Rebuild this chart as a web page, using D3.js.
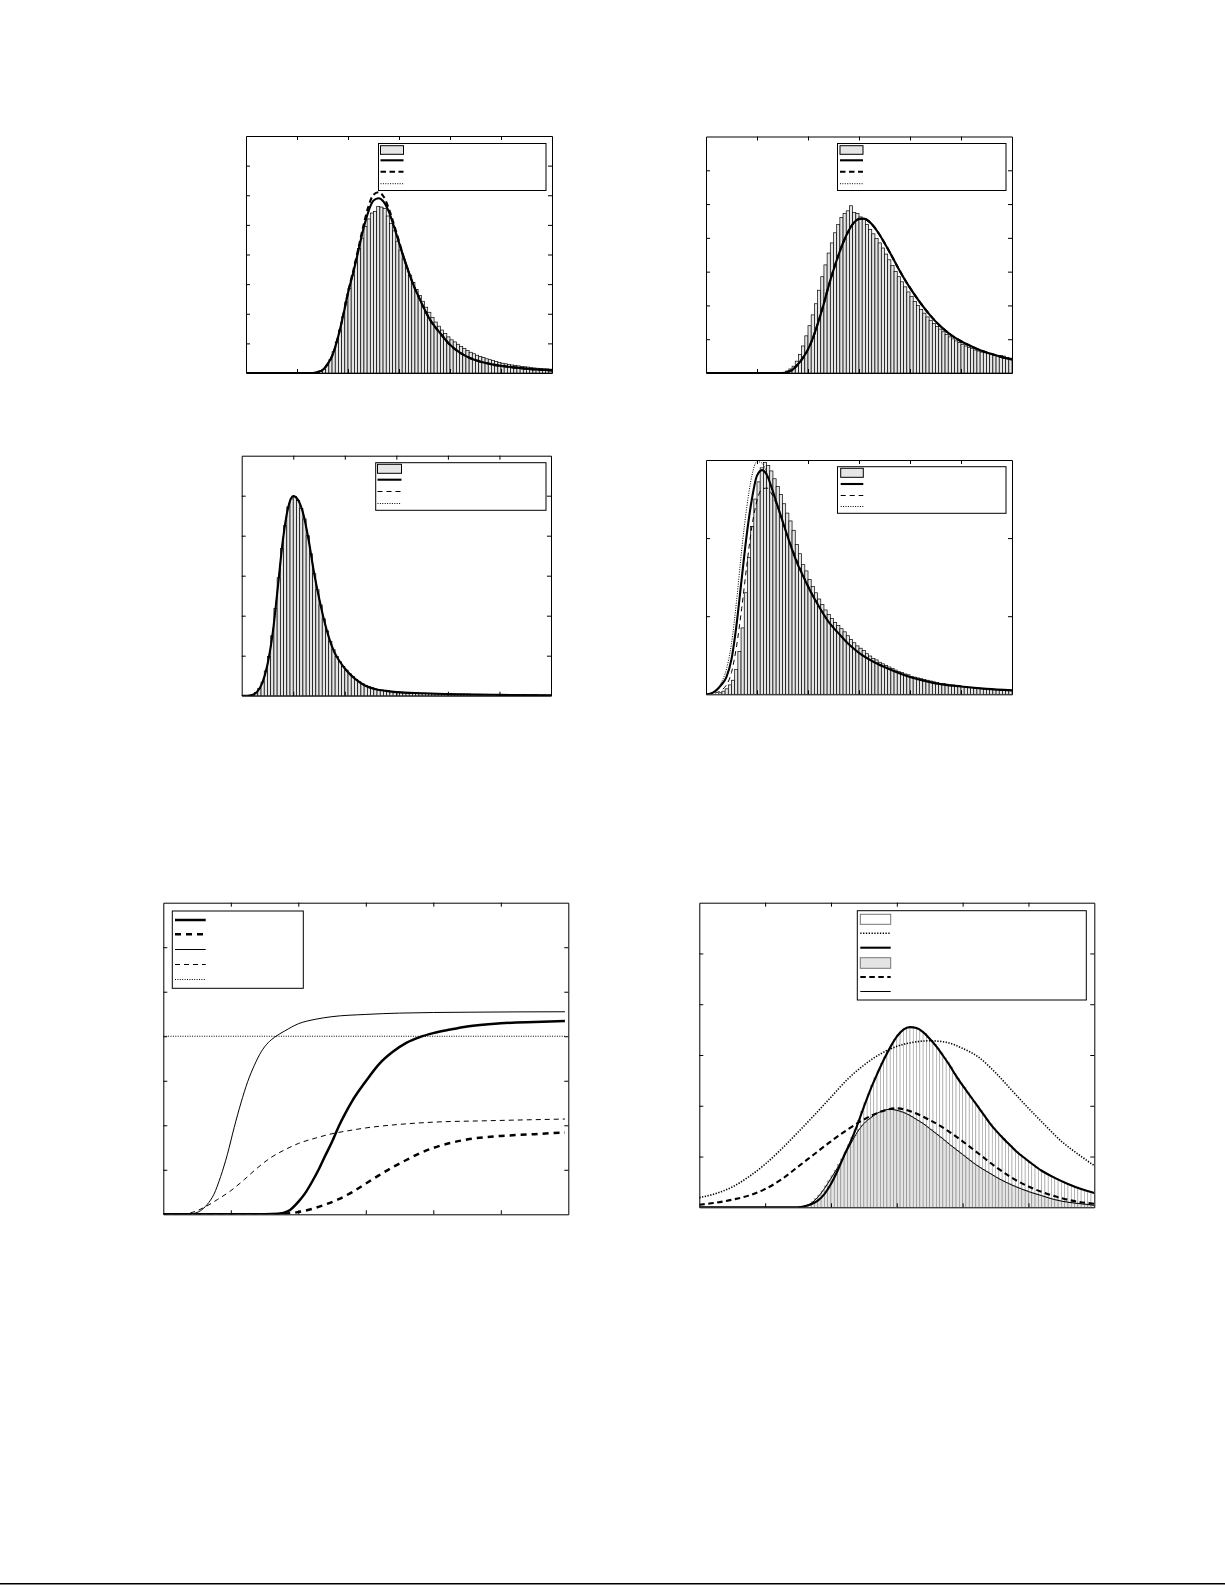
<!DOCTYPE html>
<html><head><meta charset="utf-8">
<script src="https://cdn.jsdelivr.net/npm/d3@7"></script>
<style>html,body{margin:0;padding:0;background:#fff;}svg{display:block;}</style>
</head><body>
<svg id="fig" width="1225" height="1585"></svg>
<script>
// ---------------- DATA ----------------
const xTickValues = [1, 2, 3, 4, 5];
const p1YTicks = [1, 2, 3, 4, 5, 6, 7];
const p2YTicks = [1, 2, 3, 4, 5, 6];
const p3YTicks = [1, 2, 3, 4, 5];
const p4YTicks = [1, 2];
const p5YTicks = [1, 2, 3, 4, 5, 6];
const p6YTicks = [1, 2, 3, 4, 5];

// Panel 1
const p1BinStart = 1.375, p1BinWidth = 0.0625;
const p1Hist = [0.02,0.05,0.12,0.25,0.45,0.72,1.05,1.45,1.90,2.40,2.85,3.30,3.75,4.20,4.55,4.95,5.20,5.40,5.45,5.62,5.60,5.55,5.30,5.05,4.80,4.45,4.15,3.85,3.55,3.30,3.05,2.82,2.62,2.42,2.22,2.05,1.88,1.72,1.58,1.45,1.33,1.22,1.12,1.05,0.97,0.90,0.83,0.76,0.70,0.65,0.60,0.56,0.52,0.48,0.45,0.42,0.39,0.36,0.33,0.31,0.29,0.27,0.25,0.24,0.22,0.21,0.20,0.18,0.17,0.16,0.15,0.14,0.14,0.13];
const p1Solid = [[0,0],[1.30,0],[1.40,0.03],[1.50,0.10],[1.60,0.30],[1.70,0.62],[1.80,1.18],[1.90,1.90],[2.00,2.70],[2.10,3.37],[2.20,4.10],[2.30,4.85],[2.40,5.45],[2.50,5.82],[2.60,5.90],[2.70,5.78],[2.80,5.45],[2.90,4.95],[3.00,4.40],[3.10,3.85],[3.20,3.35],[3.30,2.90],[3.40,2.52],[3.50,2.15],[3.60,1.82],[3.70,1.57],[3.80,1.36],[4.00,0.95],[4.20,0.68],[4.40,0.50],[4.60,0.38],[4.80,0.30],[5.00,0.24],[5.30,0.18],[5.60,0.13],[6.00,0.09]];
const p1Dashed = [[0,0],[1.30,0],[1.40,0.03],[1.50,0.10],[1.60,0.30],[1.70,0.62],[1.80,1.18],[1.90,1.90],[2.00,2.72],[2.10,3.42],[2.20,4.18],[2.30,4.95],[2.40,5.62],[2.50,6.02],[2.60,6.10],[2.70,5.95],[2.80,5.55],[2.90,5.02],[3.00,4.45],[3.10,3.87],[3.20,3.36],[3.30,2.90],[3.40,2.52],[3.50,2.15],[3.60,1.82],[3.70,1.57],[3.80,1.36],[4.00,0.95],[4.20,0.68],[4.40,0.50],[4.60,0.38],[4.80,0.30],[5.00,0.24],[5.30,0.18],[5.60,0.13],[6.00,0.09]];

// Panel 2
const p2BinStart = 1.5, p2BinWidth = 0.0625;
const p2Hist = [0.02,0.06,0.12,0.20,0.35,0.55,0.80,1.10,1.40,1.72,2.05,2.45,2.85,3.20,3.55,3.85,4.15,4.40,4.60,4.72,4.80,4.95,4.75,4.72,4.62,4.55,4.40,4.25,4.12,3.98,3.85,3.70,3.52,3.35,3.18,3.00,2.85,2.70,2.55,2.40,2.26,2.12,2.00,1.88,1.77,1.66,1.56,1.47,1.38,1.30,1.22,1.14,1.07,1.01,0.95,0.90,0.85,0.80,0.76,0.72,0.68,0.65,0.62,0.60,0.58,0.56,0.54,0.52,0.52,0.50,0.46,0.44];
const p2Solid = [[0,0],[1.50,0],[1.60,0.03],[1.70,0.10],[1.80,0.25],[1.90,0.45],[2.00,0.70],[2.10,1.05],[2.20,1.50],[2.30,2.00],[2.40,2.55],[2.50,3.05],[2.60,3.50],[2.70,3.90],[2.80,4.22],[2.90,4.45],[3.00,4.56],[3.10,4.57],[3.20,4.48],[3.30,4.32],[3.40,4.10],[3.50,3.85],[3.60,3.58],[3.70,3.30],[3.80,3.02],[3.90,2.76],[4.00,2.52],[4.20,2.08],[4.40,1.70],[4.60,1.38],[4.80,1.13],[5.00,0.94],[5.20,0.79],[5.40,0.66],[5.60,0.56],[5.80,0.47],[6.00,0.40]];

// Panel 3
const p3BinStart = 0.125, p3BinWidth = 0.0625;
const p3Hist = [0.01,0.02,0.08,0.18,0.34,0.62,0.98,1.50,2.18,2.95,3.68,4.25,4.72,4.92,4.98,4.88,4.68,4.42,4.00,3.55,3.05,2.65,2.27,1.92,1.62,1.36,1.15,0.98,0.85,0.73,0.64,0.55,0.48,0.41,0.35,0.30,0.26,0.23,0.20,0.17,0.15,0.14,0.13,0.12,0.11,0.10,0.09,0.09,0.08,0.08,0.07,0.07,0.07,0.06,0.06,0.06,0.06,0.05,0.05,0.05,0.05,0.05,0.04,0.04,0.04,0.04,0.04,0.04,0.04,0.03,0.03,0.03,0.03,0.03,0.03,0.03,0.03,0.03,0.02,0.02,0.02,0.02,0.02,0.02,0.02,0.02,0.02,0.02,0.02,0.02,0.01,0.01,0.01,0.01];
const p3Solid = [[0,0],[0.10,0],[0.20,0.02],[0.30,0.10],[0.40,0.32],[0.50,0.78],[0.60,1.55],[0.70,2.70],[0.80,3.90],[0.90,4.70],[1.00,4.99],[1.10,4.88],[1.20,4.52],[1.30,3.88],[1.40,3.10],[1.50,2.45],[1.60,1.88],[1.70,1.42],[1.80,1.08],[1.90,0.86],[2.00,0.68],[2.20,0.42],[2.40,0.25],[2.60,0.16],[2.80,0.12],[3.00,0.09],[3.50,0.06],[4.00,0.04],[5.00,0.02],[6.00,0.01]];

// Panel 4
const p4BinStart = 0.25, p4BinWidth = 0.0625;
const p4Hist = [0.02,0.04,0.07,0.12,0.18,0.32,0.55,0.85,1.30,1.75,2.15,2.50,2.72,2.90,2.97,2.93,2.86,2.76,2.66,2.56,2.44,2.32,2.22,2.10,1.92,1.80,1.66,1.58,1.47,1.38,1.30,1.22,1.15,1.08,1.02,0.97,0.92,0.88,0.84,0.80,0.75,0.70,0.66,0.62,0.59,0.56,0.52,0.49,0.46,0.44,0.41,0.39,0.37,0.35,0.33,0.31,0.29,0.28,0.26,0.25,0.23,0.22,0.21,0.20,0.19,0.18,0.17,0.16,0.15,0.14,0.14,0.13,0.12,0.12,0.11,0.11,0.10,0.10,0.09,0.09,0.08,0.08,0.07,0.07,0.07,0.06,0.06,0.06,0.05,0.05,0.05,0.05];
const p4Solid = [[0,0],[0.10,0.01],[0.20,0.05],[0.30,0.12],[0.40,0.22],[0.50,0.45],[0.60,0.90],[0.70,1.48],[0.80,2.05],[0.90,2.50],[1.00,2.80],[1.10,2.87],[1.20,2.80],[1.30,2.62],[1.40,2.42],[1.50,2.22],[1.60,2.02],[1.70,1.83],[1.80,1.66],[1.90,1.52],[2.00,1.38],[2.20,1.14],[2.40,0.93],[2.60,0.78],[2.80,0.64],[3.00,0.53],[3.30,0.41],[3.60,0.32],[4.00,0.22],[4.50,0.14],[5.00,0.10],[5.50,0.07],[6.00,0.05]];
const p4Dashed = [[0,0],[0.20,0.02],[0.40,0.12],[0.50,0.28],[0.60,0.62],[0.70,1.10],[0.80,1.65],[0.90,2.15],[1.00,2.48],[1.10,2.63],[1.20,2.64],[1.30,2.55],[1.40,2.40],[1.50,2.22],[1.60,2.04],[1.70,1.86],[1.80,1.69],[1.90,1.54],[2.00,1.40],[2.20,1.15],[2.40,0.94],[2.60,0.78],[2.80,0.64],[3.00,0.53],[3.30,0.41],[3.60,0.32],[4.00,0.22],[4.50,0.14],[5.00,0.10],[5.50,0.07],[6.00,0.05]];
const p4Dotted = [[0,0],[0.10,0.02],[0.20,0.06],[0.30,0.15],[0.40,0.32],[0.50,0.65],[0.60,1.20],[0.70,1.85],[0.80,2.40],[0.90,2.80],[1.00,2.98],[1.10,2.96],[1.20,2.82],[1.30,2.62],[1.40,2.40],[1.50,2.20],[1.60,2.01],[1.70,1.83],[1.80,1.66],[1.90,1.52],[2.00,1.38],[2.20,1.14],[2.40,0.93],[2.60,0.78],[2.80,0.64],[3.00,0.53],[3.30,0.41],[3.60,0.32],[4.00,0.22],[4.50,0.14],[5.00,0.10],[5.50,0.07],[6.00,0.05]];

// Panel 5
const p5ThickSolid = [[0,0],[1.50,0],[1.70,0.01],[1.85,0.07],[2.00,0.28],[2.10,0.47],[2.20,0.72],[2.30,1.00],[2.40,1.32],[2.50,1.63],[2.60,1.98],[2.70,2.28],[2.80,2.55],[2.90,2.78],[3.00,2.99],[3.20,3.38],[3.40,3.65],[3.60,3.85],[3.80,3.98],[4.00,4.07],[4.25,4.15],[4.50,4.22],[5.00,4.29],[5.50,4.32],[5.95,4.34]];
const p5ThickDashed = [[0,0],[1.60,0],[1.80,0.01],[2.00,0.05],[2.20,0.12],[2.40,0.22],[2.60,0.34],[2.80,0.50],[3.00,0.69],[3.20,0.88],[3.40,1.06],[3.60,1.22],[3.80,1.37],[4.00,1.49],[4.25,1.60],[4.50,1.68],[4.75,1.73],[5.00,1.76],[5.50,1.80],[5.95,1.84]];
const p5ThinSolid = [[0,0],[0.30,0],[0.45,0.02],[0.55,0.08],[0.65,0.22],[0.75,0.45],[0.85,0.85],[0.95,1.35],[1.05,1.95],[1.15,2.50],[1.25,2.98],[1.35,3.35],[1.45,3.65],[1.55,3.85],[1.65,3.98],[1.80,4.12],[2.00,4.28],[2.25,4.38],[2.50,4.44],[3.00,4.49],[3.50,4.52],[4.50,4.54],[5.95,4.55]];
const p5ThinDashed = [[0,0],[0.25,0],[0.40,0.03],[0.60,0.15],[0.80,0.33],[1.00,0.53],[1.20,0.78],[1.40,1.05],[1.60,1.28],[1.80,1.45],[2.00,1.59],[2.25,1.71],[2.50,1.81],[2.75,1.88],[3.00,1.94],[3.50,2.02],[4.00,2.07],[4.75,2.10],[5.95,2.14]];
const p5Level = [[0,4],[5.95,4]];

// Panel 6
const p6BinStart = 1.5, p6BinWidth = 0.05;
const p6HistA = [0.005,0.015,0.03,0.05,0.08,0.11,0.16,0.22,0.31,0.41,0.52,0.65,0.79,0.95,1.09,1.23,1.38,1.54,1.71,1.89,2.06,2.23,2.40,2.55,2.69,2.83,2.96,3.09,3.20,3.31,3.40,3.47,3.52,3.54,3.55,3.54,3.51,3.47,3.42,3.35,3.28,3.21,3.13,3.04,2.94,2.85,2.75,2.64,2.54,2.45,2.36,2.26,2.17,2.08,2.00,1.91,1.82,1.72,1.64,1.56,1.48,1.41,1.35,1.28,1.22,1.15,1.09,1.04,0.98,0.93,0.89,0.84,0.79,0.74,0.70,0.67,0.63,0.60,0.56,0.53,0.50,0.47,0.45,0.42,0.39,0.37,0.35,0.33,0.31,0.29];
const p6HistB = [0.005,0.015,0.04,0.06,0.11,0.17,0.24,0.32,0.42,0.52,0.62,0.73,0.84,0.95,1.07,1.19,1.31,1.42,1.53,1.61,1.68,1.73,1.78,1.83,1.87,1.90,1.92,1.93,1.93,1.92,1.90,1.88,1.86,1.82,1.79,1.75,1.71,1.67,1.63,1.58,1.53,1.48,1.43,1.38,1.32,1.27,1.22,1.17,1.12,1.07,1.02,0.97,0.92,0.87,0.82,0.78,0.74,0.70,0.66,0.62,0.58,0.55,0.52,0.49,0.46,0.43,0.40,0.38,0.35,0.33,0.30,0.28,0.26,0.24,0.22,0.20,0.18,0.16,0.15,0.13,0.12,0.11,0.10,0.09,0.08,0.07,0.06,0.05,0.05,0.04];
const p6Dotted = [[0,0.19],[0.25,0.27],[0.50,0.40],[0.75,0.60],[1.00,0.85],[1.25,1.15],[1.50,1.48],[1.75,1.82],[2.00,2.17],[2.25,2.52],[2.50,2.80],[2.75,3.02],[3.00,3.17],[3.25,3.25],[3.50,3.28],[3.75,3.25],[4.00,3.13],[4.25,2.95],[4.50,2.65],[4.75,2.30],[5.00,1.95],[5.25,1.62],[5.50,1.30],[5.75,1.05],[6.00,0.82]];
const p6ThickSolid = [[0,0],[1.50,0],[1.60,0.02],[1.70,0.06],[1.80,0.13],[1.90,0.26],[2.00,0.46],[2.10,0.72],[2.20,1.02],[2.30,1.30],[2.40,1.62],[2.50,1.98],[2.60,2.32],[2.70,2.62],[2.80,2.90],[2.90,3.15],[3.00,3.36],[3.10,3.50],[3.20,3.55],[3.30,3.53],[3.40,3.45],[3.50,3.32],[3.60,3.17],[3.70,2.99],[3.80,2.80],[3.90,2.59],[4.00,2.40],[4.10,2.22],[4.20,2.04],[4.30,1.86],[4.40,1.68],[4.50,1.52],[4.60,1.38],[4.70,1.25],[4.80,1.12],[4.90,1.01],[5.00,0.91],[5.20,0.72],[5.40,0.58],[5.60,0.46],[5.80,0.36],[6.00,0.28]];
const p6ThickDashed = [[0,0.05],[0.25,0.09],[0.50,0.15],[0.75,0.23],[1.00,0.36],[1.25,0.55],[1.50,0.80],[1.75,1.05],[2.00,1.30],[2.25,1.53],[2.50,1.73],[2.75,1.88],[3.00,1.95],[3.25,1.87],[3.50,1.72],[3.75,1.53],[4.00,1.30],[4.25,1.05],[4.50,0.80],[4.75,0.58],[5.00,0.41],[5.25,0.28],[5.50,0.18],[5.75,0.11],[6.00,0.07]];
const p6ThinSolid = [[0,0],[1.50,0],[1.60,0.02],[1.70,0.08],[1.80,0.20],[1.90,0.37],[2.00,0.57],[2.10,0.78],[2.20,1.01],[2.30,1.25],[2.40,1.48],[2.50,1.65],[2.60,1.76],[2.70,1.85],[2.80,1.91],[2.90,1.93],[3.00,1.91],[3.10,1.87],[3.20,1.81],[3.30,1.73],[3.40,1.65],[3.50,1.55],[3.60,1.45],[3.70,1.35],[3.80,1.24],[3.90,1.14],[4.00,1.04],[4.20,0.84],[4.40,0.68],[4.60,0.53],[4.80,0.41],[5.00,0.31],[5.20,0.23],[5.40,0.15],[5.60,0.10],[5.80,0.07],[6.00,0.04]];

// ---------------- STYLES ----------------
const ST = {
  thick:   {w: 2.1, dash: null},
  thickD:  {w: 2.1, dash: "5.5,3.5"},
  thin:    {w: 1,   dash: null},
  thinD:   {w: 1,   dash: "5,4"},
  dot:     {w: 1,   dash: "1,1.4"},
  dotB:    {w: 1.6, dash: "1.3,1.5"},
  thick5:  {w: 2.5, dash: null},
  thickD5: {w: 2.5, dash: "6,5"}
};
const HIST = {
  dark:  {fill: "#e6e6e6", stroke: "#000", sw: 0.7},
  white: {fill: "#ffffff", stroke: "#9a9a9a", sw: 0.6},
  gray:  {fill: "#e4e4e4", stroke: "#8a8a8a", sw: 0.6}
};

// ---------------- LAYOUT ----------------
const panels = [
  {box:[246,136,552,373], ymax:8, yt:p1YTicks,
   hists:[{start:p1BinStart,w:p1BinWidth,vals:p1Hist,st:"dark"}],
   lines:[{d:p1Solid,st:"dot"},{d:p1Dashed,st:"thickD"},{d:p1Solid,st:"thick"}],
   legend:{box:[378.5,143.5,546,190.5], sx:[380.5,403.5], items:[{y:150,t:"patch",st:"dark",h:8.6},{y:160.3,t:"line",st:"thick"},{y:171.7,t:"line",st:"thickD"},{y:183.7,t:"line",st:"dot"}]}},
  {box:[706,136.5,1012,373], ymax:7, yt:p2YTicks,
   hists:[{start:p2BinStart,w:p2BinWidth,vals:p2Hist,st:"dark"}],
   lines:[{d:p2Solid,st:"dot"},{d:p2Solid,st:"thickD"},{d:p2Solid,st:"thick"}],
   legend:{box:[837.5,143.5,1006,190.5], sx:[840,863], items:[{y:150,t:"patch",st:"dark",h:8.6},{y:160.3,t:"line",st:"thick"},{y:171.7,t:"line",st:"thickD"},{y:183.7,t:"line",st:"dot"}]}},
  {box:[241.7,455.7,551,695.7], ymax:6, yt:p3YTicks,
   hists:[{start:p3BinStart,w:p3BinWidth,vals:p3Hist,st:"dark"}],
   lines:[{d:p3Solid,st:"dot"},{d:p3Solid,st:"thinD"},{d:p3Solid,st:"thick"}],
   legend:{box:[375.7,462.7,546,510.3], sx:[377.5,401.5], items:[{y:468.8,t:"patch",st:"dark",h:9},{y:479.7,t:"line",st:"thick"},{y:491.5,t:"line",st:"thinD"},{y:503.5,t:"line",st:"dot"}]}},
  {box:[706,460,1012,694.3], ymax:3, yt:p4YTicks,
   hists:[{start:p4BinStart,w:p4BinWidth,vals:p4Hist,st:"dark"}],
   lines:[{d:p4Dotted,st:"dot"},{d:p4Dashed,st:"thinD"},{d:p4Solid,st:"thick"}],
   legend:{box:[837.5,466.7,1006,513.3], sx:[840.7,863.3], items:[{y:472.8,t:"patch",st:"dark",h:9},{y:484,t:"line",st:"thick"},{y:495.5,t:"line",st:"thinD"},{y:506.5,t:"line",st:"dot"}]}},
  {box:[163.3,902.7,568.3,1214.3], ymax:7, yt:p5YTicks,
   hists:[],
   lines:[{d:p5Level,st:"dot"},{d:p5ThinDashed,st:"thinD"},{d:p5ThinSolid,st:"thin"},{d:p5ThickDashed,st:"thickD5"},{d:p5ThickSolid,st:"thick5"}],
   legend:{box:[172.3,911,303.3,988.3], sx:[175,205.7], items:[{y:920,t:"line",st:"thick5"},{y:934.3,t:"line",st:"thickD5"},{y:949.5,t:"line",st:"thin"},{y:964.5,t:"line",st:"thinD"},{y:979.5,t:"line",st:"dot"}]}},
  {box:[699.3,902.7,1094.3,1207.3], ymax:6, yt:p6YTicks,
   hists:[{start:p6BinStart,w:p6BinWidth,vals:p6HistA,st:"white"},{start:p6BinStart,w:p6BinWidth,vals:p6HistB,st:"gray"}],
   lines:[{d:p6Dotted,st:"dotB"},{d:p6ThickDashed,st:"thickD"},{d:p6ThinSolid,st:"thin"},{d:p6ThickSolid,st:"thick"}],
   legend:{box:[857.3,910.7,1086.3,1000], sx:[860.3,890.7], items:[{y:919.3,t:"patch",st:"white",h:10},{y:933.3,t:"line",st:"dotB"},{y:947.7,t:"line",st:"thick"},{y:963,t:"patch",st:"gray",h:10.6},{y:977,t:"line",st:"thickD"},{y:991.5,t:"line",st:"thin"}]}}
];

// ---------------- DRAW ----------------
const svg = d3.select("#fig");
svg.append("rect").attr("width",1225).attr("height",1585).attr("fill","#fff");

function styleLine(sel, key){
  const s = ST[key];
  sel.attr("fill","none").attr("stroke","#000").attr("stroke-width",s.w)
     .attr("stroke-linejoin","round");
  if (s.dash) sel.attr("stroke-dasharray", s.dash);
}

panels.forEach((p, pi) => {
  const [x0,y0,x1,y1] = p.box;
  const x = d3.scaleLinear().domain([0,6]).range([x0,x1]);
  const y = d3.scaleLinear().domain([0,p.ymax]).range([y1,y0]);
  const g = svg.append("g");
  const clipId = "clip"+pi;
  svg.append("clipPath").attr("id",clipId).append("rect")
     .attr("x",x0).attr("y",y0-2).attr("width",x1-x0).attr("height",y1-y0+2);
  const plot = g.append("g").attr("clip-path","url(#"+clipId+")");

  p.hists.forEach(h => {
    const hs = HIST[h.st];
    plot.append("g").selectAll("rect").data(h.vals).join("rect")
      .attr("x",(v,i)=>x(h.start + i*h.w))
      .attr("width",(v,i)=>x(h.start + (i+1)*h.w) - x(h.start + i*h.w))
      .attr("y",v=>y(v))
      .attr("height",v=>y(0)-y(v))
      .attr("fill",hs.fill).attr("stroke",hs.stroke).attr("stroke-width",hs.sw);
  });

  const line = d3.line().x(d=>x(d[0])).y(d=>y(d[1])).curve(d3.curveMonotoneX);
  p.lines.forEach(l => {
    plot.append("path").attr("d", line(l.d)).call(styleLine, l.st);
  });

  // axes with inward ticks on all four sides
  const tl = 4;
  const axes = [
    [d3.axisBottom(x).tickValues(xTickValues), `translate(0,${y1})`],
    [d3.axisTop(x).tickValues(xTickValues), `translate(0,${y0})`],
    [d3.axisLeft(y).tickValues(p.yt), `translate(${x0},0)`],
    [d3.axisRight(y).tickValues(p.yt), `translate(${x1},0)`]
  ];
  axes.forEach(([ax, tr]) => {
    const a = g.append("g").attr("transform", tr)
      .call(ax.tickSizeInner(-tl).tickSizeOuter(0).tickFormat(""));
    a.selectAll("path.domain").attr("stroke","#000").attr("stroke-width",1);
    a.selectAll(".tick line").attr("stroke","#000").attr("stroke-width",1);
  });

  // legend
  const L = p.legend;
  const lg = g.append("g");
  lg.append("rect").attr("x",L.box[0]).attr("y",L.box[1])
    .attr("width",L.box[2]-L.box[0]).attr("height",L.box[3]-L.box[1])
    .attr("fill","#fff").attr("stroke","#000").attr("stroke-width",1);
  L.items.forEach(it => {
    if (it.t === "patch") {
      const hs = HIST[it.st];
      lg.append("rect").attr("x",L.sx[0]).attr("y",it.y - it.h/2)
        .attr("width",L.sx[1]-L.sx[0]).attr("height",it.h)
        .attr("fill",hs.fill).attr("stroke",hs.stroke === "#000" ? "#000" : "#777").attr("stroke-width",1);
    } else {
      lg.append("line").attr("x1",L.sx[0]).attr("x2",L.sx[1])
        .attr("y1",it.y).attr("y2",it.y).call(styleLine, it.st);
    }
  });
});

// page rule at bottom
svg.append("rect").attr("x",0).attr("y",1583).attr("width",1225).attr("height",1.5).attr("fill","#000");
</script>
</body></html>
